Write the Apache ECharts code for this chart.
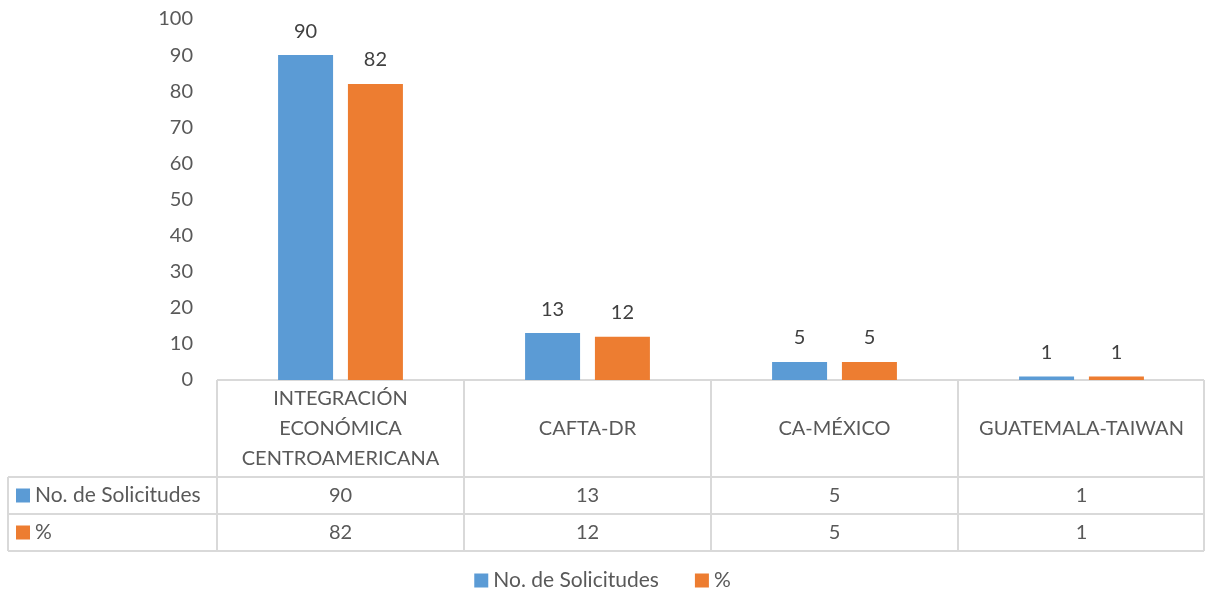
<!DOCTYPE html>
<html><head><meta charset="utf-8">
<script src="https://cdn.jsdelivr.net/npm/echarts@6/dist/echarts.min.js"></script>
<style>html,body{margin:0;padding:0;background:#fff}#c{width:1205px;height:597px}</style></head>
<body><div id="c"></div>
<script>
const categories = ['INTEGRACIÓN\nECONÓMICA\nCENTROAMERICANA', 'CAFTA-DR', 'CA-MÉXICO', 'GUATEMALA-TAIWAN'];
const seriesNames = ['No. de Solicitudes', '%'];
const solicitudes = [90, 13, 5, 1];
const porcentaje = [82, 12, 5, 1];
const yMin = 0, yMax = 100, yInterval = 10;

const colors = ['#5B9BD5', '#ED7D31'];
const FONT = 'Lato';
const FS = 20;
const W = 1205, H = 597;
const gridLeft = 217, gridRight = 0, gridTop = 19, gridBottom = 217;
const axisY = H - gridBottom;
const headerH = 97, rowH = 37, tableLeft = 8;
const lineColor = '#D9D9D9';

const chart = echarts.init(document.getElementById('c'));
const seriesData = [solicitudes, porcentaje];

const graphics = [];
const plotW = W - gridLeft - gridRight;
const band = plotW / categories.length;
const rowsTop = axisY + headerH;
const tableBottom = rowsTop + rowH * seriesNames.length;
function line(x1, y1, x2, y2) {
  graphics.push({type: 'line', shape: {x1, y1, x2, y2}, style: {stroke: lineColor, lineWidth: 2}, silent: true});
}
line(gridLeft, axisY, W - 1, axisY);
for (let r = 0; r <= seriesNames.length; r++) line(tableLeft, rowsTop + r * rowH, W - 1, rowsTop + r * rowH);
for (let i = 0; i <= categories.length; i++) {
  const x = Math.min(gridLeft + i * band, W - 1);
  line(x, axisY, x, tableBottom);
}
line(tableLeft, rowsTop, tableLeft, tableBottom);
categories.forEach((c, i) => {
  graphics.push({type: 'text', x: gridLeft + (i + 0.5) * band, y: axisY + headerH / 2,
    style: {text: c, fontFamily: FONT, fontSize: FS, fill: '#595959', align: 'center', verticalAlign: 'middle', lineHeight: 30}});
});
seriesNames.forEach((n, r) => {
  const cy = rowsTop + (r + 0.5) * rowH;
  graphics.push({type: 'rect', shape: {x: 16, y: cy - 7, width: 14, height: 14}, style: {fill: colors[r]}});
  graphics.push({type: 'text', x: 35, y: cy, style: {text: n, fontFamily: FONT, fontSize: 21, fill: '#595959', align: 'left', verticalAlign: 'middle'}});
  seriesData[r].forEach((v, i) => {
    graphics.push({type: 'text', x: gridLeft + (i + 0.5) * band, y: cy,
      style: {text: String(v), fontFamily: FONT, fontSize: FS, fill: '#595959', align: 'center', verticalAlign: 'middle'}});
  });
});

chart.setOption({
  animation: false,
  color: colors,
  textStyle: {fontFamily: FONT},
  grid: {left: gridLeft, right: gridRight, top: gridTop, bottom: gridBottom, containLabel: false},
  legend: {
    bottom: 1, left: 'center', itemWidth: 14, itemHeight: 14, itemGap: 36, icon: 'rect',
    textStyle: {fontFamily: FONT, fontSize: 21, color: '#595959'},
    data: seriesNames
  },
  xAxis: {
    type: 'category', data: categories,
    axisLine: {show: false}, axisTick: {show: false}, axisLabel: {show: false}
  },
  yAxis: {
    type: 'value', min: yMin, max: yMax, interval: yInterval,
    axisLine: {show: false}, axisTick: {show: false}, splitLine: {show: false},
    axisLabel: {margin: 24, fontFamily: FONT, fontSize: FS, color: '#595959'}
  },
  series: seriesNames.map((n, k) => ({
    name: n, type: 'bar', data: seriesData[k], barWidth: 55, barGap: '27%',
    label: {show: true, position: 'top', distance: 14, fontFamily: FONT, fontSize: FS, color: '#404040'}
  })),
  graphic: graphics
});
</script></body></html>
